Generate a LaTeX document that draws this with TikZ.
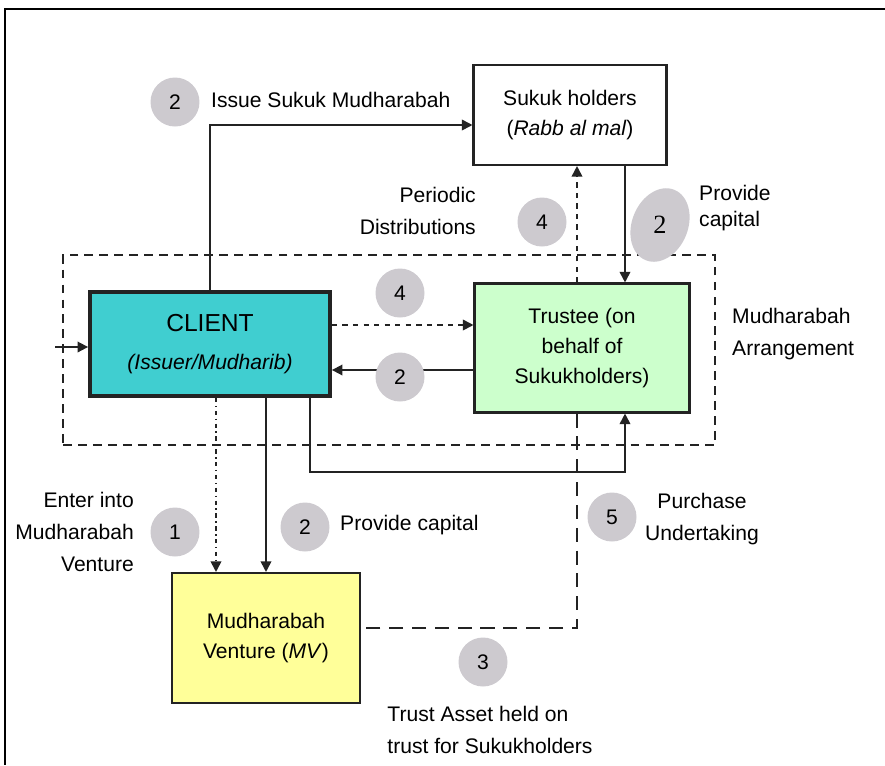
\documentclass[tikz,border=0pt]{standalone}
\usepackage{fontspec}
\setmainfont{Liberation Sans}
\newfontfamily\blobfont{Liberation Serif}
\usetikzlibrary{arrows.meta,positioning,calc}
\definecolor{clientcyan}{RGB}{64,206,208}
\definecolor{trustgreen}{RGB}{204,255,204}
\definecolor{ventyellow}{RGB}{255,255,153}
\definecolor{stepgray}{RGB}{205,202,207}
\definecolor{inkgray}{RGB}{35,35,35}
\tikzset{
  box/.style={draw=inkgray, line width=1.2pt, align=center, inner sep=2pt},
  numdot/.style={circle, fill=stepgray, minimum size=0.98cm, inner sep=0pt, font=\fontsize{12}{14}\selectfont},
  lbl/.style={font=\fontsize{12}{18}\selectfont},
  flow/.style={-{Triangle[length=6pt,width=6pt]}, line width=1pt, draw=inkgray},
}

\begin{document}
\begin{tikzpicture}[x=0.02cm, y=-0.02cm, every node/.style={font=\fontsize{12}{17}\selectfont}]
  \useasboundingbox (0,0) rectangle (885,765);
  \draw[line width=1.3pt] (885,9) -- (5,9) -- (5,765);

  % the arrangement frame and the four parties
  \node[draw=inkgray, line width=1.1pt, dash pattern=on 5pt off 3.5pt, minimum width=13.04cm, minimum height=3.8cm]
    (arrange) at (389,350) {};
  \node[box, minimum width=3.86cm, minimum height=2cm]
    (sukuk) at (570,115) {Sukuk holders\\(\textit{Rabb al mal})};
  \node[box, line width=2.2pt, fill=clientcyan, minimum width=4.8cm, minimum height=2.08cm]
    (client) at (210,344) {{\fontsize{14}{16}\selectfont CLIENT}\\[5pt]\textit{(Issuer/Mudharib)}};
  \node[box, fill=trustgreen, minimum width=4.3cm, minimum height=2.58cm]
    (trustee) at (582,348) {Trustee (on\\behalf of\\Sukukholders)};
  \node[box, fill=ventyellow, minimum width=3.76cm, minimum height=2.6cm]
    (venture) at (266,638) {Mudharabah\\Venture (\textit{MV})};

  % columns and rows the connectors run along
  \coordinate (colA) at (216,0);
  \coordinate (colB) at (266,0);
  \coordinate (colC) at (310,0);
  \coordinate (colD) at (577,0);
  \coordinate (colE) at (625,0);
  \coordinate (rowA) at (0,125);
  \coordinate (rowB) at (0,325);
  \coordinate (rowC) at (0,370);
  \coordinate (rowD) at (0,472);
  \coordinate (rowE) at (0,628);
  \coordinate (inlet) at (55,347);

  \draw[flow] (client.north) |- (sukuk.west |- rowA);
  \draw[flow] (sukuk.south -| colE) -- (trustee.north -| colE);
  \draw[flow, dash pattern=on 3pt off 3pt] (trustee.north -| colD) -- (sukuk.south -| colD);
  \draw[flow, dash pattern=on 3pt off 3pt] (client.east |- rowB) -- (trustee.west |- rowB);
  \draw[flow] (trustee.west |- rowC) -- (client.east |- rowC);
  \draw[flow] (inlet) -- (client.west |- inlet);
  \draw[flow, dash pattern=on 2.5pt off 2pt on 0.8pt off 2pt] (client.south -| colA) -- (venture.north -| colA);
  \draw[flow] (client.south -| colB) -- (venture.north -| colB);
  \draw[flow] (client.south -| colC) |- (rowD -| colE) -- (trustee.south -| colE);
  \draw[line width=1.2pt, draw=inkgray, dash pattern=on 8pt off 5pt] (trustee.south -| colD) |- (venture.east |- rowE);

  % step numbers
  \node[numdot] (n2a) at (175,102) {2};
  \node[numdot] (n4a) at (542,222) {4};
  \fill[stepgray, rotate around={-22:(660,225)}] (660,225) ellipse (0.56cm and 0.76cm);
  \node[font=\blobfont\fontsize{15}{16}\selectfont] (n2b) at (660,225) {2};
  \node[numdot] (n4b) at (400,293) {4};
  \node[numdot] (n2c) at (400,377) {2};
  \node[numdot] (n1) at (175,532) {1};
  \node[numdot] (n2d) at (305,527) {2};
  \node[numdot] (n5) at (612,517) {5};
  \node[numdot] (n3) at (483,662) {3};

  % step texts
  \node[lbl, anchor=west] (t2a) at (205,100) {Issue Sukuk Mudharabah};
  \node[lbl, anchor=east, align=right] (t4a) at (482,211) {Periodic\\Distributions};
  \node[lbl, anchor=west, align=left, font=\fontsize{12}{15}\selectfont] (t2b) at (693,208) {Provide\\capital};
  \node[lbl, anchor=west, align=left] (tarr) at (726,334) {Mudharabah\\Arrangement};
  \node[lbl, anchor=east, align=right] (t1) at (140,532) {Enter into\\Mudharabah\\Venture};
  \node[lbl, anchor=west] (t2d) at (334,525) {Provide capital};
  \node[lbl, align=center] (t5) at (702,519) {Purchase\\Undertaking};
  \node[lbl, align=left] (t3) at (490,730) {Trust Asset held on\\trust for Sukukholders};
\end{tikzpicture}
\end{document}
